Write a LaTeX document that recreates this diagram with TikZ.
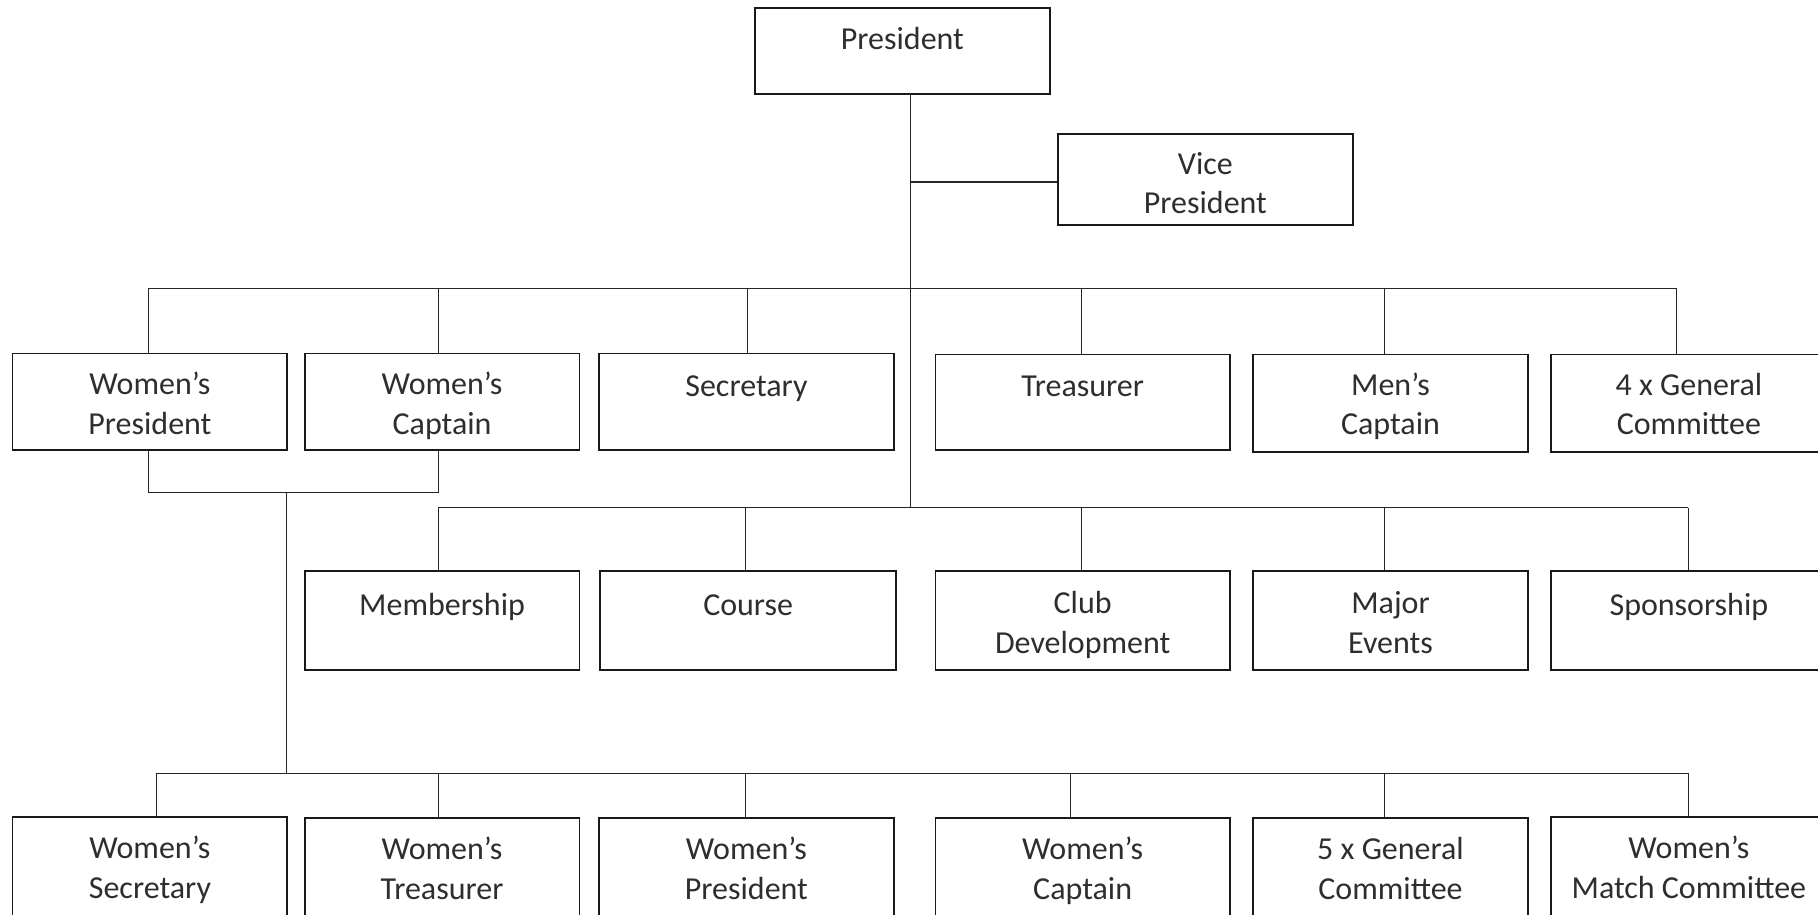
\documentclass[tikz,border=0pt]{standalone}
\usepackage{fontspec}
\setmainfont{Carlito}
\begin{document}
\begin{tikzpicture}[x=1pt,y=-1pt,
  box/.style={draw=black!90, line width=1.8pt, rectangle, inner sep=0pt, anchor=north west},
  txt/.style={font=\fontsize{32}{39.6}\selectfont, text=black!82, align=center, inner sep=0pt, anchor=north,
    execute at begin node={\rule{0pt}{24pt}}},
  conn/.style={draw=black!85, line width=1.1pt}]
\useasboundingbox (0,0) rectangle (1818,914);
\clip (0,0) rectangle (1818,914);
% boxes: \mybox{name}{x1}{y1}{x2}{y2}
\def\mybox#1#2#3#4#5{\path (#2,#3) coordinate (#1-nw) (#4,#5) coordinate (#1-se);
  \node[box, minimum width={#4-#2}, minimum height={#5-#3}] (#1) at (#1-nw) {};}
\mybox{pres}{754}{7}{1049}{93}
\mybox{vp}{1057}{133}{1352}{224}
\mybox{wpa}{11.6}{352.5}{286.4}{448.7}
\mybox{wca}{303.8}{352.5}{578.5}{448.7}
\mybox{sec}{598.3}{352.5}{892.7}{448.7}
\mybox{treas}{934.5}{353.6}{1229}{448.7}
\mybox{mc}{1252.2}{353.6}{1527}{451}
\mybox{gcf}{1550}{353.6}{1826}{451}
\mybox{memb}{303.8}{570.4}{578.5}{669}
\mybox{course}{599.4}{570.4}{895.1}{669}
\mybox{club}{934.5}{570.4}{1229}{669}
\mybox{major}{1252.2}{570.4}{1527}{669}
\mybox{spons}{1550}{570.4}{1826}{669}
\mybox{wsec}{11.6}{816.2}{286.4}{940}
\mybox{wtreas}{303.8}{817.2}{578.5}{940}
\mybox{wpres}{598.3}{817.2}{892.7}{940}
\mybox{wcapt}{934.5}{817.2}{1229}{940}
\mybox{gcv}{1252.2}{817.2}{1527}{940}
\mybox{wmc}{1550}{816.2}{1826}{940}
% texts
\node[txt] (pres-t) at ([yshift=-18pt]pres.north) {President};
\node[txt] (vp-t) at ([yshift=-19pt]vp.north) {Vice\\President};
\node[txt] (wpa-t) at ([yshift=-19.5pt]wpa.north) {Women’s\\President};
\node[txt] (wca-t) at ([yshift=-19.5pt]wca.north) {Women’s\\Captain};
\node[txt] (sec-t) at ([yshift=-19.5pt]sec.north) {Secretary};
\node[txt] (treas-t) at ([yshift=-19pt]treas.north) {Treasurer};
\node[txt] (mc-t) at ([yshift=-19pt]mc.north) {Men’s\\Captain};
\node[txt] (gcf-t) at ([yshift=-19pt]gcf.north) {4 x General\\Committee};
\node[txt] (memb-t) at ([yshift=-21pt]memb.north) {Membership};
\node[txt] (course-t) at ([yshift=-21pt]course.north) {Course};
\node[txt] (club-t) at ([yshift=-21pt]club.north) {Club\\Development};
\node[txt] (major-t) at ([yshift=-21pt]major.north) {Major\\Events};
\node[txt] (spons-t) at ([yshift=-21pt]spons.north) {Sponsorship};
\node[txt] (wsec-t) at ([yshift=-20pt]wsec.north) {Women’s\\Secretary};
\node[txt] (wtreas-t) at ([yshift=-20pt]wtreas.north) {Women’s\\Treasurer};
\node[txt] (wpres-t) at ([yshift=-20pt]wpres.north) {Women’s\\President};
\node[txt] (wcapt-t) at ([yshift=-20pt]wcapt.north) {Women’s\\Captain};
\node[txt] (gcv-t) at ([yshift=-20pt]gcv.north) {5 x General\\Committee};
\node[txt] (wmc-t) at ([yshift=-20pt]wmc.north) {Women’s\\Match Committee};
% trunk
\coordinate (trunktop) at (910.1,93);
\coordinate (jvp) at (910.1,182);
\coordinate (bus1) at (910.1,288.7);
\coordinate (bus2) at (910.1,507.8);
\draw[conn] (trunktop) -- (bus2);
\draw[conn] (jvp) -- (jvp -| vp.west);
% bus 1
\coordinate (b1l) at (148.4,288.7);
\coordinate (b1r) at (1676.5,288.7);
\draw[conn] (b1l) -- (b1r);
\foreach \x/\n in {148.4/wpa, 438.3/wca, 747.8/sec, 1081.7/treas, 1384.3/mc, 1676.5/gcf}
  \draw[conn] (\x,288.7) -- (\x,0 |- \n.north);
% women's branch
\coordinate (wj1) at (148.4,492.7);
\coordinate (wj2) at (438.3,492.7);
\coordinate (wj3) at (286.4,492.7);
\coordinate (wj4) at (286.4,773.3);
\draw[conn] (wj1 |- wpa.south) -- (wj1) -- (wj2) -- (wj2 |- wca.south);
\draw[conn] (wj3) -- (wj4);
% bus 2
\coordinate (b2l) at (438.3,507.8);
\coordinate (b2r) at (1688.1,507.8);
\draw[conn] (b2l) -- (b2r);
\foreach \x/\n in {438.3/memb, 745.5/course, 1081.7/club, 1384.3/major, 1688.1/spons}
  \draw[conn] (\x,507.8) -- (\x,0 |- \n.north);
% bus 3
\coordinate (b3l) at (156.5,773.3);
\coordinate (b3r) at (1688.1,773.3);
\draw[conn] (b3l) -- (b3r);
\foreach \x/\n in {156.5/wsec, 438.3/wtreas, 745.5/wpres, 1070.1/wcapt, 1384.3/gcv, 1688.1/wmc}
  \draw[conn] (\x,773.3) -- (\x,0 |- \n.north);
\end{tikzpicture}
\end{document}
